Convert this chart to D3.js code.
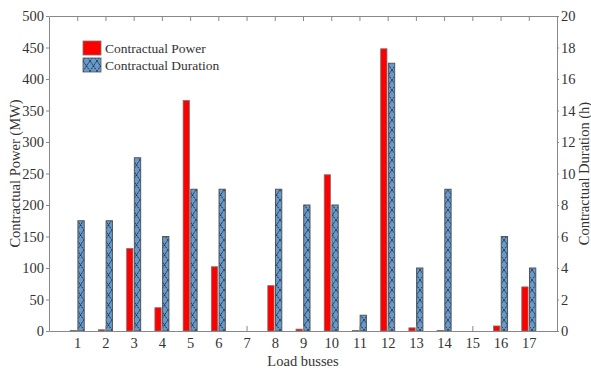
<!DOCTYPE html>
<html>
<head>
<meta charset="utf-8">
<script src="https://cdn.jsdelivr.net/npm/d3@7"></script>
<style>
  body { margin: 0; background: #fff; }
  text { font-family: "Liberation Serif", "Times New Roman", serif; fill: #333; }
</style>
</head>
<body>
<script>
// data
const busses = [1, 2, 3, 4, 5, 6, 7, 8, 9, 10, 11, 12, 13, 14, 15, 16, 17];
const powerMW = [1, 2, 131, 37, 366, 102, 0, 72, 3, 248, 1, 448, 5, 1, 0, 8, 70];
const durationH = [7, 7, 11, 6, 9, 9, 0, 9, 8, 8, 1, 17, 4, 9, 0, 6, 4];
const powerTicks = [0, 50, 100, 150, 200, 250, 300, 350, 400, 450, 500];
const durationTicks = [0, 2, 4, 6, 8, 10, 12, 14, 16, 18, 20];

const W = 591, H = 370;
const plotL = 49, plotR = 557, plotT = 16, plotB = 331;
const axisColor = "#888";
const FONT = "'Liberation Serif', 'Times New Roman', serif";

const svg = d3.select("body").append("svg")
    .attr("width", W)
    .attr("height", H);

// cross hatch for the duration bars
const defs = svg.append("defs");
const pat = defs.append("pattern")
    .attr("id", "hatch")
    .attr("patternUnits", "userSpaceOnUse")
    .attr("width", 7)
    .attr("height", 10);
pat.append("rect").attr("width", 7).attr("height", 10).attr("fill", "#6699cc");
pat.append("path")
    .attr("d", "M0.5,0.5 L6.5,9.5 M6.5,0.5 L0.5,9.5")
    .attr("stroke", "#000")
    .attr("stroke-width", 1)
    .attr("stroke-dasharray", "1.2,1.3");

const x = d3.scaleLinear().domain([0, 18]).range([plotL, plotR]);
const yP = d3.scaleLinear().domain([0, 500]).range([plotB, plotT]);
const yD = d3.scaleLinear().domain([0, 20]).range([plotB, plotT]);

const barW = 6.3;

// bars
svg.append("g").selectAll("rect")
    .data(busses)
    .join("rect")
    .attr("x", d => x(d) - 7)
    .attr("y", (d, i) => yP(powerMW[i]))
    .attr("width", barW)
    .attr("height", (d, i) => plotB - yP(powerMW[i]))
    .attr("fill", "#ff0000")
    .attr("stroke", (d, i) => powerMW[i] > 0 ? "#777" : "none")
    .attr("stroke-width", 0.8);

svg.append("g").selectAll("rect")
    .data(busses)
    .join("rect")
    .attr("x", d => x(d) + 0.7)
    .attr("y", (d, i) => yD(durationH[i]))
    .attr("width", barW)
    .attr("height", (d, i) => plotB - yD(durationH[i]))
    .attr("fill", "url(#hatch)")
    .attr("stroke", (d, i) => durationH[i] > 0 ? "#555" : "none")
    .attr("stroke-width", 1);

// axes
function styleAxis(g) {
    g.attr("font-family", FONT).attr("font-size", 14.5);
    g.select(".domain").attr("stroke", axisColor);
    g.selectAll(".tick line").attr("stroke", axisColor);
    g.selectAll(".tick text").attr("fill", "#333");
}

svg.append("g")
    .attr("transform", `translate(0,${plotB})`)
    .call(d3.axisBottom(x).tickValues(busses).tickSizeInner(-5).tickSizeOuter(0).tickPadding(7))
    .call(styleAxis);

svg.append("g")
    .attr("transform", `translate(0,${plotT})`)
    .call(d3.axisTop(x).tickValues(busses).tickSizeInner(-5).tickSizeOuter(0).tickFormat(""))
    .call(styleAxis);

svg.append("g")
    .attr("transform", `translate(${plotL},0)`)
    .call(d3.axisLeft(yP).tickValues(powerTicks).tickSizeInner(3).tickSizeOuter(0).tickPadding(2))
    .call(styleAxis);

svg.append("g")
    .attr("transform", `translate(${plotR},0)`)
    .call(d3.axisRight(yD).tickValues(durationTicks).tickSizeInner(2).tickSizeOuter(0).tickPadding(2))
    .call(styleAxis);

// axis titles
svg.append("text")
    .attr("transform", `translate(20,${(plotT + plotB) / 2}) rotate(-90)`)
    .attr("text-anchor", "middle")
    .style("font-size", "14.5px")
    .text("Contractual Power (MW)");

svg.append("text")
    .attr("transform", `translate(589,${(plotT + plotB) / 2}) rotate(-90)`)
    .attr("text-anchor", "middle")
    .style("font-size", "14.5px")
    .text("Contractual Duration (h)");

svg.append("text")
    .attr("x", (plotL + plotR) / 2)
    .attr("y", 366)
    .attr("text-anchor", "middle")
    .style("font-size", "14.5px")
    .text("Load busses");

// legend
const legend = svg.append("g").attr("transform", "translate(83,41)");
const legendItems = [
    { label: "Contractual Power", fill: "#ff0000", stroke: "#777" },
    { label: "Contractual Duration", fill: "url(#hatch)", stroke: "#555" }
];
legendItems.forEach((item, i) => {
    legend.append("rect")
        .attr("x", 0)
        .attr("y", i * 17)
        .attr("width", 18)
        .attr("height", 14)
        .attr("fill", item.fill)
        .attr("stroke", item.stroke)
        .attr("stroke-width", 0.8);
    legend.append("text")
        .attr("x", 22)
        .attr("y", i * 17 + 11.5)
        .style("font-size", "13.5px")
        .text(item.label);
});
</script>
</body>
</html>
